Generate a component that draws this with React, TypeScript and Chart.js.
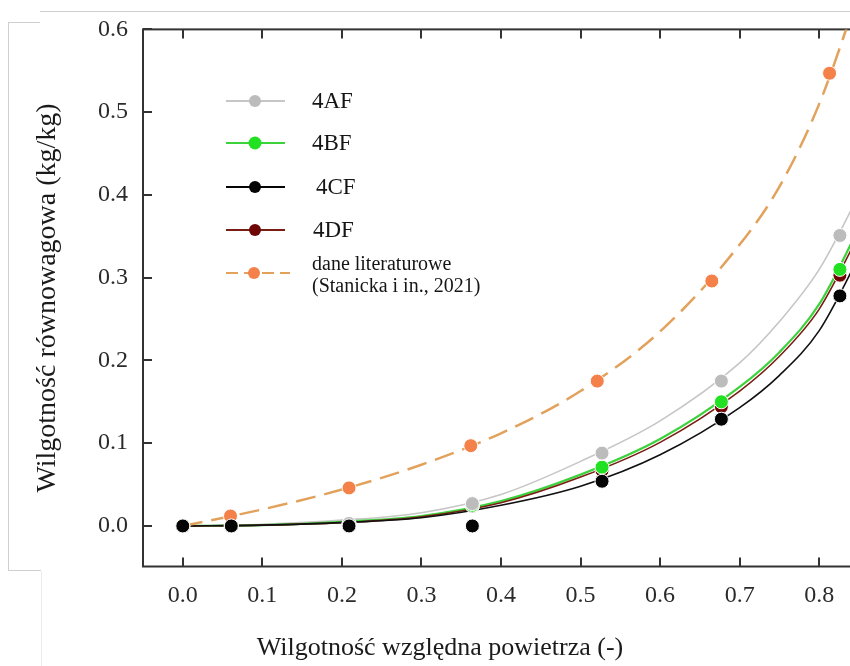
import React, { useEffect, useRef } from "react";
import { Chart, registerables } from "chart.js";

Chart.register(...registerables);

// ---- measured points ----
const humidity = [0, 0.061, 0.209, 0.364, 0.527, 0.677, 0.826];
const values4AF = [0, 0.001, 0.003, 0.027, 0.088, 0.175, 0.351];
const values4BF = [0, 0, 0.002, 0.025, 0.071, 0.15, 0.31];
const values4CF = [0, 0, 0, 0, 0.054, 0.129, 0.278];
const values4DF = [0, 0, 0.002, 0.024, 0.067, 0.144, 0.303];

const litHumidity = [0.06, 0.209, 0.362, 0.521, 0.665, 0.813];
const litValues = [0.012, 0.046, 0.097, 0.175, 0.296, 0.547];

// ---- fitted curves ----
const fitHumidity = [0, 0.1, 0.2, 0.3, 0.4, 0.5, 0.6, 0.7, 0.75, 0.8, 0.85];
const fit4AF = [0, 0.002, 0.007, 0.016, 0.038, 0.078, 0.127, 0.197, 0.247, 0.31, 0.4];
const fit4BF = [0, 0.001, 0.005, 0.012, 0.03, 0.062, 0.105, 0.168, 0.21, 0.268, 0.36];
const fit4DF = [0, 0.001, 0.004, 0.011, 0.028, 0.059, 0.101, 0.163, 0.205, 0.262, 0.352];
const fit4CF = [0, 0.001, 0.004, 0.01, 0.025, 0.048, 0.086, 0.143, 0.182, 0.236, 0.325];
const fitLit = [0, 0.02, 0.044, 0.074, 0.112, 0.163, 0.235, 0.34, 0.41, 0.51, 0.645];

const xTickValues = [0, 0.1, 0.2, 0.3, 0.4, 0.5, 0.6, 0.7, 0.8];
const yTickValues = [0, 0.1, 0.2, 0.3, 0.4, 0.5, 0.6];

const seriesNames = ["4AF", "4BF", "4CF", "4DF"];
const litName = ["dane literaturowe", "(Stanicka i in., 2021)"];
const xTitle = "Wilgotność względna powietrza (-)";
const yTitle = "Wilgotność równowagowa (kg/kg)";

const FONT = '"Liberation Serif", "Times New Roman", serif';

const C_GRAY_PT = "#bcbcbc";
const C_GRAY_LN = "#c6c6c6";
const C_GREEN = "#22e022";
const C_GREEN_LN = "#3cd23c";
const C_BLACK = "#050505";
const C_RED = "#6e0606";
const C_RED_LN = "#7a1e14";
const C_ORANGE = "#f4804a";
const C_ORANGE_LN = "#e2a25c";

const pts = (xs: number[], ys: number[]) => xs.map((x, i) => ({ x, y: ys[i] }));

const framePlugin = {
  id: "frameTicks",
  beforeDatasetsDraw(chart: any) {
    const { ctx, chartArea: a, scales } = chart;
    ctx.save();
    ctx.strokeStyle = "#333333";
    ctx.lineWidth = 2;
    ctx.strokeRect(a.left, a.top, a.right - a.left, a.bottom - a.top);
    const L = 9;
    ctx.beginPath();
    for (const v of xTickValues) {
      const px = Math.round(scales.x.getPixelForValue(v));
      ctx.moveTo(px, a.bottom);
      ctx.lineTo(px, a.bottom - L);
      ctx.moveTo(px, a.top);
      ctx.lineTo(px, a.top + L);
    }
    for (const v of yTickValues) {
      const py = Math.round(scales.y.getPixelForValue(v));
      ctx.moveTo(a.left, py);
      ctx.lineTo(a.left + L, py);
      ctx.moveTo(a.right, py);
      ctx.lineTo(a.right - L, py);
    }
    ctx.stroke();
    ctx.restore();
  },
};

const legendPlugin = {
  id: "customLegend",
  afterDraw(chart: any) {
    const { ctx } = chart;
    ctx.save();
    const items = [
      { label: seriesNames[0], line: C_GRAY_LN, pt: C_GRAY_PT, y: 101, tx: 312, r: 6 },
      { label: seriesNames[1], line: C_GREEN_LN, pt: C_GREEN, y: 143, tx: 312, r: 6.5 },
      { label: seriesNames[2], line: C_BLACK, pt: C_BLACK, y: 187, tx: 316, r: 6 },
      { label: seriesNames[3], line: C_RED_LN, pt: C_RED, y: 230, tx: 313, r: 6 },
    ];
    for (const it of items) {
      ctx.strokeStyle = it.line;
      ctx.lineWidth = 2;
      ctx.setLineDash([]);
      ctx.beginPath();
      ctx.moveTo(226, it.y);
      ctx.lineTo(285, it.y);
      ctx.stroke();
      ctx.fillStyle = it.pt;
      ctx.beginPath();
      ctx.arc(255, it.y, it.r, 0, Math.PI * 2);
      ctx.fill();
      ctx.fillStyle = "#151515";
      ctx.font = `23px ${FONT}`;
      ctx.textBaseline = "middle";
      ctx.textAlign = "left";
      ctx.fillText(it.label, it.tx, it.y + 1);
    }
    // literature entry
    const ly = 273;
    ctx.strokeStyle = C_ORANGE_LN;
    ctx.lineWidth = 2;
    ctx.setLineDash([12, 6]);
    ctx.beginPath();
    ctx.moveTo(226, ly);
    ctx.lineTo(290, ly);
    ctx.stroke();
    ctx.setLineDash([]);
    ctx.fillStyle = C_ORANGE;
    ctx.beginPath();
    ctx.arc(254, ly, 6, 0, Math.PI * 2);
    ctx.fill();
    ctx.fillStyle = "#151515";
    ctx.font = `20px ${FONT}`;
    ctx.textBaseline = "middle";
    ctx.fillText(litName[0], 312, 265);
    ctx.fillText(litName[1], 312, 287);
    ctx.restore();
  },
};

const xTitlePlugin = {
  id: "xTitleText",
  afterDraw(chart: any) {
    const { ctx } = chart;
    ctx.save();
    ctx.fillStyle = "#1a1a1a";
    ctx.font = `26px ${FONT}`;
    ctx.textAlign = "center";
    ctx.textBaseline = "middle";
    ctx.fillText(xTitle, 440, 648);
    ctx.restore();
  },
};

export default function App() {
  const ref = useRef<HTMLCanvasElement | null>(null);

  useEffect(() => {
    if (!ref.current) return;
    const ptStyle = (c: string) => ({
      showLine: false,
      pointRadius: 7,
      pointHoverRadius: 7,
      pointBackgroundColor: c,
      pointBorderColor: "#ffffff",
      pointBorderWidth: 1,
      backgroundColor: c,
      borderColor: c,
    });
    const lineStyle = (c: string, w: number, dash: number[] = []) => ({
      showLine: true,
      pointRadius: 0,
      borderColor: c,
      borderWidth: w,
      borderDash: dash,
      cubicInterpolationMode: "monotone" as const,
      fill: false,
    });

    const chart = new Chart(ref.current, {
      type: "scatter",
      data: {
        datasets: [
          { label: "4CF", data: pts(humidity, values4CF), ...ptStyle(C_BLACK) },
          { label: "lit", data: pts(litHumidity, litValues), ...ptStyle(C_ORANGE) },
          { label: "4AF", data: pts(humidity, values4AF), ...ptStyle(C_GRAY_PT) },
          { label: "4BF", data: pts(humidity, values4BF), ...ptStyle(C_GREEN) },
          { label: "4DF", data: pts(humidity, values4DF), ...ptStyle(C_RED) },
          { label: "fitLit", data: pts(fitHumidity, fitLit), ...lineStyle(C_ORANGE_LN, 2.5, [20, 9]) },
          { label: "fit4CF", data: pts(fitHumidity, fit4CF), ...lineStyle("#111111", 1.6) },
          { label: "fit4DF", data: pts(fitHumidity, fit4DF), ...lineStyle(C_RED_LN, 1.6) },
          { label: "fit4BF", data: pts(fitHumidity, fit4BF), ...lineStyle(C_GREEN_LN, 2.2) },
          { label: "fit4AF", data: pts(fitHumidity, fit4AF), ...lineStyle(C_GRAY_LN, 1.6) },
        ],
      },
      options: {
        animation: false,
        responsive: false,
        devicePixelRatio: 1,
        layout: { padding: { top: 24.5, left: 0, right: 21, bottom: 0 } },
        plugins: { legend: { display: false }, tooltip: { enabled: false }, title: { display: false } },
        scales: {
          x: {
            type: "linear",
            min: -0.05,
            max: 0.85,
            grid: { display: false, drawTicks: false },
            border: { display: false },
            afterFit: (s: any) => {
              s.height = 99.5;
            },
            afterBuildTicks: (s: any) => {
              s.ticks = xTickValues.map((v) => ({ value: v }));
            },
            ticks: {
              padding: 15,
              color: "#2a2a2a",
              font: { family: FONT, size: 24 },
              callback: (v: any) => Number(v).toFixed(1),
            },
          },
          y: {
            type: "linear",
            min: -0.049,
            max: 0.6,
            grid: { display: false, drawTicks: false },
            border: { display: false },
            afterFit: (s: any) => {
              s.width = 143;
            },
            afterBuildTicks: (s: any) => {
              s.ticks = yTickValues.map((v) => ({ value: v }));
            },
            ticks: {
              padding: 15,
              color: "#2a2a2a",
              font: { family: FONT, size: 24 },
              callback: (v: any) => Number(v).toFixed(1),
            },
            title: {
              display: true,
              text: yTitle,
              color: "#1a1a1a",
              font: { family: FONT, size: 28 },
              padding: { top: 31, bottom: 0 },
            },
          },
        },
      },
      plugins: [framePlugin, legendPlugin, xTitlePlugin],
    });
    return () => chart.destroy();
  }, []);

  const line = (style: React.CSSProperties) => (
    <div style={{ position: "absolute", background: "#cfcfcf", ...style }} />
  );

  return (
    <div
      style={{
        position: "fixed",
        left: 0,
        top: 0,
        width: 850,
        height: 666,
        overflow: "hidden",
        background: "#ffffff",
      }}
    >
      <canvas
        ref={ref}
        width={880}
        height={666}
        style={{ position: "absolute", left: 0, top: 0, width: 880, height: 666 }}
      />
      {line({ left: 40, top: 11, width: 810, height: 1 })}
      {line({ left: 8, top: 22, width: 32, height: 1 })}
      {line({ left: 8, top: 22, width: 1, height: 549 })}
      {line({ left: 8, top: 570, width: 33, height: 1 })}
      {line({ left: 41, top: 571, width: 1, height: 95, background: "#ececec" })}
    </div>
  );
}
